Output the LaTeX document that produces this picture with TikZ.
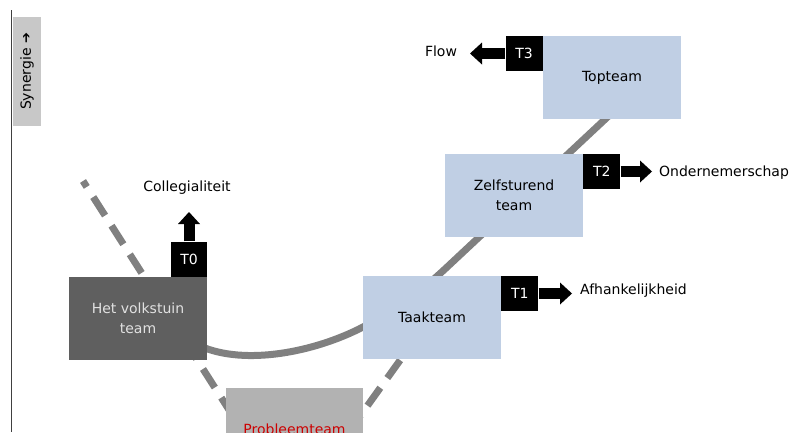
\documentclass[tikz,border=0pt]{standalone}
\usepackage{fontspec}
\setmainfont{DejaVu Sans}
\usetikzlibrary{arrows.meta}
\definecolor{teamblue}{RGB}{192,207,228}
\definecolor{linegray}{RGB}{128,128,128}
\definecolor{darkbox}{RGB}{95,95,95}
\definecolor{darktext}{RGB}{225,225,225}
\definecolor{probgray}{RGB}{178,178,178}
\definecolor{probred}{RGB}{204,0,0}
\definecolor{axisgray}{RGB}{64,64,64}
\definecolor{synbox}{RGB}{200,200,200}
\newcommand\figfont{\fontsize{14}{20}\selectfont}
\begin{document}
\begin{tikzpicture}[x=1pt,y=-1pt,
  team/.style={fill=teamblue, text=black, minimum width=138pt, minimum height=83pt, inner sep=0pt, align=center, font=\figfont},
  tag/.style={fill=black, text=white, minimum width=37pt, minimum height=35pt, inner sep=0pt, font=\figfont},
  lbl/.style={text=black, inner sep=0pt, font=\figfont},
  curveline/.style={draw=linegray, line width=7pt},
  dashline/.style={curveline, dash pattern=on 22pt off 12pt},
  blockarrow/.style={draw=black, line width=11pt, -{Triangle[length=12pt,width=22pt,line width=0pt]}}
]
\useasboundingbox (0,0) rectangle (799,432);
\clip (0,0) rectangle (799,432);

% axis
\coordinate (axtop) at (11.5,10);
\coordinate (axbot) at (11.5,432);
\draw[axisgray, line width=1.5pt] (axtop) -- (axbot);
\node[fill=synbox, rotate=90, minimum width=109pt, minimum height=28pt, inner sep=0pt, font=\figfont] (syn) at (27,71.5) {Synergie \raisebox{0.5pt}{\fontsize{13}{13}\selectfont ➔}};

% lines behind boxes
\coordinate (d1) at (83,181);
\coordinate (d2) at (240,427);
\draw[dashline, dash phase=15pt] (d1) -- (d2);
\coordinate (d3) at (350,430);
\coordinate (d4) at (411,345);
\draw[dashline, dash phase=4pt] (d3) -- (d4);
\coordinate (c1) at (200,346);
\coordinate (c2) at (363,327);
\coordinate (c3) at (445,269);
\coordinate (c4) at (615,110);
\draw[curveline] (c1) .. controls (245,366) and (315,352) .. (c2)
  .. controls (400,308) and (420,292) .. (c3) -- (c4);

% boxes
\node[team] (top) at (612,77.5) {Topteam};
\node[team] (zelf) at (514,195.5) {Zelfsturend\\team};
\node[team] (taak) at (432,317.5) {Taakteam};
\node[team, fill=darkbox, text=darktext] (volk) at (138,318.5) {Het volkstuin\\team};
\node[team, minimum width=137pt, fill=probgray, text=probred] (prob) at (294.5,429.5) {Probleemteam};

% tags
\node[tag, anchor=north east] (t3) at (top.north west) {T3};
\node[tag, anchor=north west] (t2) at (zelf.north east) {T2};
\node[tag, anchor=north west] (t1) at (taak.north east) {T1};
\node[tag, anchor=south east, minimum width=36pt] (t0) at (volk.north east) {T0};

% labels
\node[lbl] (flow) at (441,51) {Flow};
\node[lbl, anchor=west] (onder) at (659,173) {Ondernemerschap};
\node[lbl, anchor=west] (afh) at (580,291) {Afhankelijkheid};
\node[lbl] (coll) at (187,188) {Collegialiteit};

% block arrows
\coordinate (flowtip) at (470,52);
\coordinate (ondertip) at (652,172);
\coordinate (afhtip) at (572,292);
\coordinate (colltip) at (189,212);
\draw[blockarrow] (t3.west) -- (t3.west -| flowtip);
\draw[blockarrow] (t2.east) -- (t2.east -| ondertip);
\draw[blockarrow] (t1.east) -- (t1.east -| afhtip);
\draw[blockarrow] (t0.north) -- (t0.north |- colltip);
\end{tikzpicture}
\end{document}
